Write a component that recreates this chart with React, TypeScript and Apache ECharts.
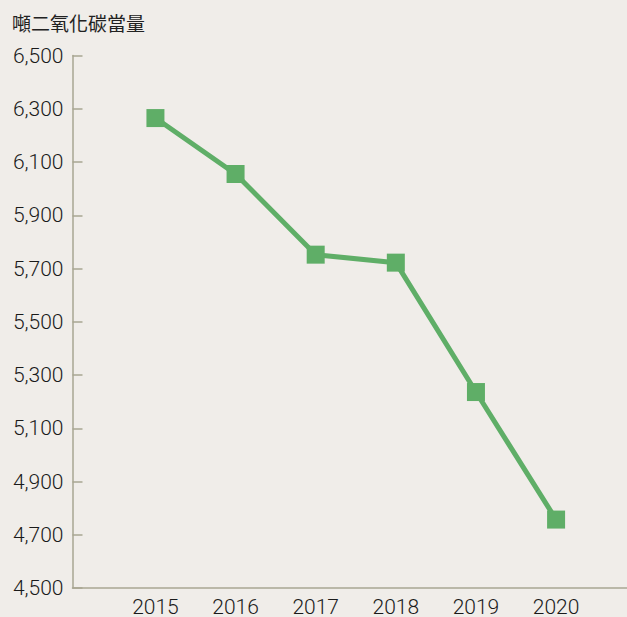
import React, { useEffect, useRef } from "react";
import * as echarts from "echarts";

const years = [2015, 2016, 2017, 2018, 2019, 2020];
const values = [6265, 6055, 5752, 5722, 5236, 4757];
const yTicks = [4500, 4700, 4900, 5100, 5300, 5500, 5700, 5900, 6100, 6300, 6500];
const unitLabel = "噸二氧化碳當量";

export default function App() {
  const ref = useRef<HTMLDivElement>(null);
  useEffect(() => {
    const chart = echarts.init(ref.current!, null, { renderer: "svg" });
    const axisColor = "#a9a692";
    const font = "Roboto, 'Noto Sans CJK TC', sans-serif";
    chart.setOption({
      animation: false,
      backgroundColor: "#f0ede9",
      graphic: [
        {
          type: "text",
          left: 12,
          top: 13,
          style: { text: unitLabel, fontSize: 19, fill: "#222", fontFamily: "'Noto Sans CJK TC', sans-serif" },
        },
      ],
      grid: { left: 72.5, right: 0, top: 55.5, bottom: 29, containLabel: false },
      xAxis: {
        type: "value",
        min: 2013.965,
        max: 2020.885,
        splitLine: { show: false },
        axisLine: { show: true, lineStyle: { color: axisColor, width: 1.5 } },
        axisTick: { show: false },
        axisLabel: {
          customValues: years,
          formatter: (v: number) => String(Math.round(v)),
          color: "#1a1a1a",
          fontSize: 21,
          fontWeight: 300,
          fontFamily: font,
          margin: 8,
        },
      },
      yAxis: {
        type: "value",
        min: 4500,
        max: 6500,
        interval: 200,
        splitLine: { show: false },
        axisLine: { show: true, lineStyle: { color: axisColor, width: 1.5 } },
        axisTick: { show: true, inside: true, length: 10, lineStyle: { color: axisColor, width: 1.5 }, customValues: yTicks },
        axisLabel: {
          customValues: yTicks,
          formatter: (v: number) => v.toLocaleString("en-US"),
          color: "#1a1a1a",
          fontSize: 21,
          fontWeight: 300,
          fontFamily: font,
          margin: 9,
        },
      },
      series: [
        {
          type: "line",
          data: years.map((y, i) => [y, values[i]]),
          lineStyle: { color: "#5fae67", width: 5 },
          itemStyle: { color: "#5fae67" },
          symbol: "rect",
          symbolSize: 18,
        },
      ],
    });
    return () => chart.dispose();
  }, []);
  return <div ref={ref} style={{ width: 627, height: 617, position: "absolute", left: 0, top: 0 }} />;
}
